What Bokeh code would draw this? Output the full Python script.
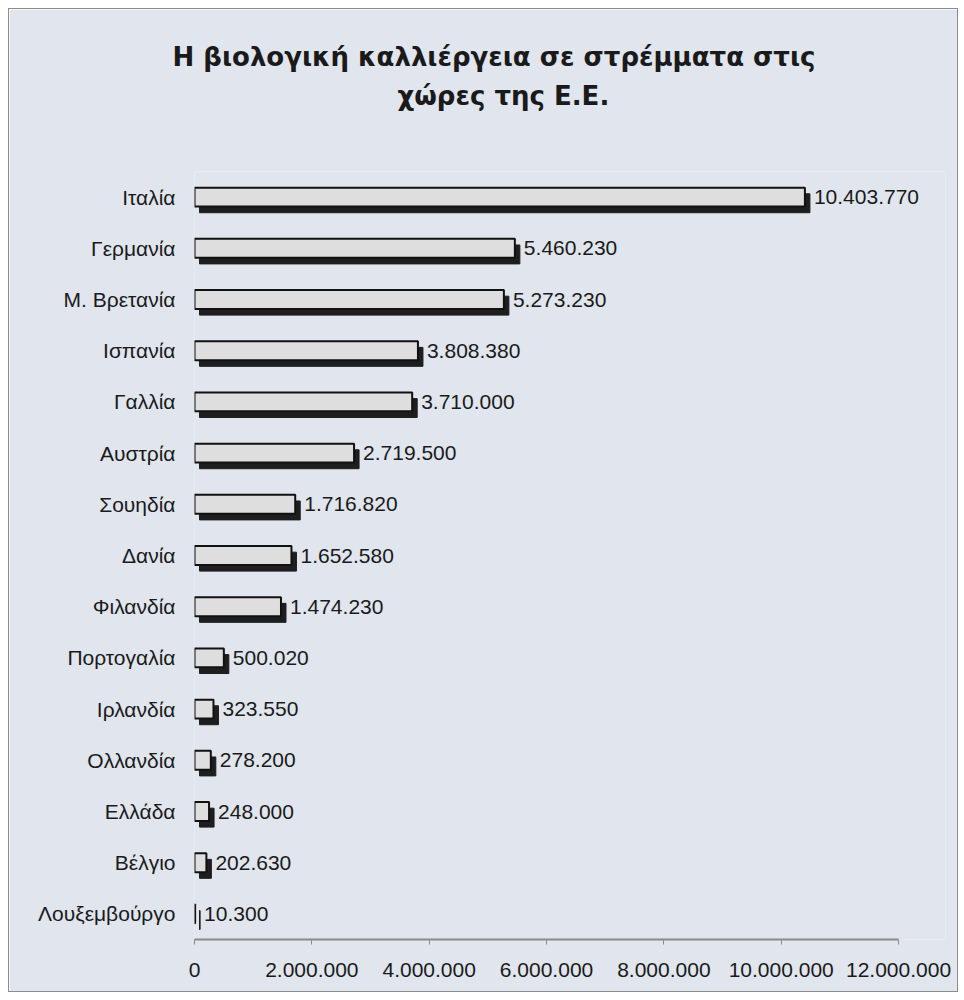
from bokeh.plotting import figure
from bokeh.models import FactorRange, Range1d, ColumnDataSource, FixedTicker, Title
from bokeh.transform import dodge
from bokeh.core.properties import value
from bokeh.embed import file_html
from bokeh.resources import INLINE

countries = ["Ιταλία", "Γερμανία", "Μ. Βρετανία", "Ισπανία", "Γαλλία", "Αυστρία",
             "Σουηδία", "Δανία", "Φιλανδία", "Πορτογαλία", "Ιρλανδία", "Ολλανδία",
             "Ελλάδα", "Βέλγιο", "Λουξεμβούργο"]
areas = [10403770, 5460230, 5273230, 3808380, 3710000, 2719500,
         1716820, 1652580, 1474230, 500020, 323550, 278200,
         248000, 202630, 10300]
tick_values = [0, 2000000, 4000000, 6000000, 8000000, 10000000, 12000000]
tick_labels = ["0", "2.000.000", "4.000.000", "6.000.000", "8.000.000", "10.000.000", "12.000.000"]

title_line1 = "Η βιολογική καλλιέργεια σε στρέμματα στις"
title_line2 = "χώρες της Ε.Ε."

def fmt(v):
    return f"{v:,}".replace(",", ".")

labels = [fmt(v) for v in areas]

AXIS_END = 12000000
X_END = 12800000
W, H = 950, 984
ML, MR, MT, MB = 185, 14, 162, 54
frame_w = W - ML - MR
shadow_dx = 5 * X_END / frame_w

src = ColumnDataSource(dict(country=countries, area=areas, label=labels,
                            shadow_left=[shadow_dx] * len(areas),
                            shadow_right=[a + shadow_dx for a in areas]))

FONT = "Liberation Sans"
TFONT = "DejaVu Sans"
BG = "#e0e5ee"

p = figure(width=W, height=H, y_range=FactorRange(factors=countries[::-1]),
           x_range=Range1d(0, X_END), output_backend="svg", toolbar_location=None,
           min_border_left=ML, min_border_right=MR, min_border_top=MT, min_border_bottom=MB)
p.background_fill_color = BG
p.border_fill_color = BG
p.outline_line_color = None
p.styles = {"border": "1px solid #8c8c8c", "margin-left": "8px", "margin-top": "8px"}

# spacer between the title and the plot area
p.add_layout(Title(text=" ", standoff=44, text_font_size="10px"), "above")
p.add_layout(Title(text=title_line2, align="left", offset=203, standoff=7,
                   text_font=TFONT, text_font_size="26px", text_font_style="bold",
                   text_color="#1a1a1a"), "above")
p.add_layout(Title(text=title_line1, align="left", offset=-22, standoff=7,
                   text_font=TFONT, text_font_size="26px", text_font_style="bold",
                   text_color="#1a1a1a"), "above")

# shadow
p.hbar(y=dodge("country", -0.12, range=p.y_range), left="shadow_left", right="shadow_right",
       height=0.37, source=src, fill_color="#1e1e1e", line_color="#1e1e1e", line_width=1)
# bar
p.hbar(y="country", left=0, right="area", height=0.37, source=src,
       fill_color="#dedede", line_color="#111111", line_width=2)

p.text(x="area", y="country", text="label", source=src, x_offset=9,
       text_baseline="middle", text_align="left", text_font=value(FONT),
       text_font_size="21px", text_color="#1a1a1a")

p.xgrid.grid_line_color = None
p.ygrid.grid_line_color = None

p.xaxis.bounds = (0, AXIS_END)
p.xaxis.ticker = FixedTicker(ticks=tick_values)
p.xaxis.major_label_overrides = {v: l for v, l in zip(tick_values, tick_labels)}
p.xaxis.axis_line_color = "#8a8a8a"
p.xaxis.axis_line_width = 2
p.xaxis.major_tick_line_color = "#8a8a8a"
p.xaxis.major_tick_out = 5
p.xaxis.major_tick_in = 0
p.xaxis.minor_tick_line_color = None
p.xaxis.major_label_standoff = 18
p.xaxis.major_label_text_font = FONT
p.xaxis.major_label_text_font_size = "21px"
p.xaxis.major_label_text_color = "#1a1a1a"

p.yaxis.axis_line_color = None
p.yaxis.major_tick_line_color = None
p.yaxis.minor_tick_line_color = None
p.yaxis.major_label_standoff = 13
p.yaxis.major_label_text_font = FONT
p.yaxis.major_label_text_font_size = "21px"
p.yaxis.major_label_text_color = "#1a1a1a"

open("out.html", "w").write(file_html(p, INLINE))
